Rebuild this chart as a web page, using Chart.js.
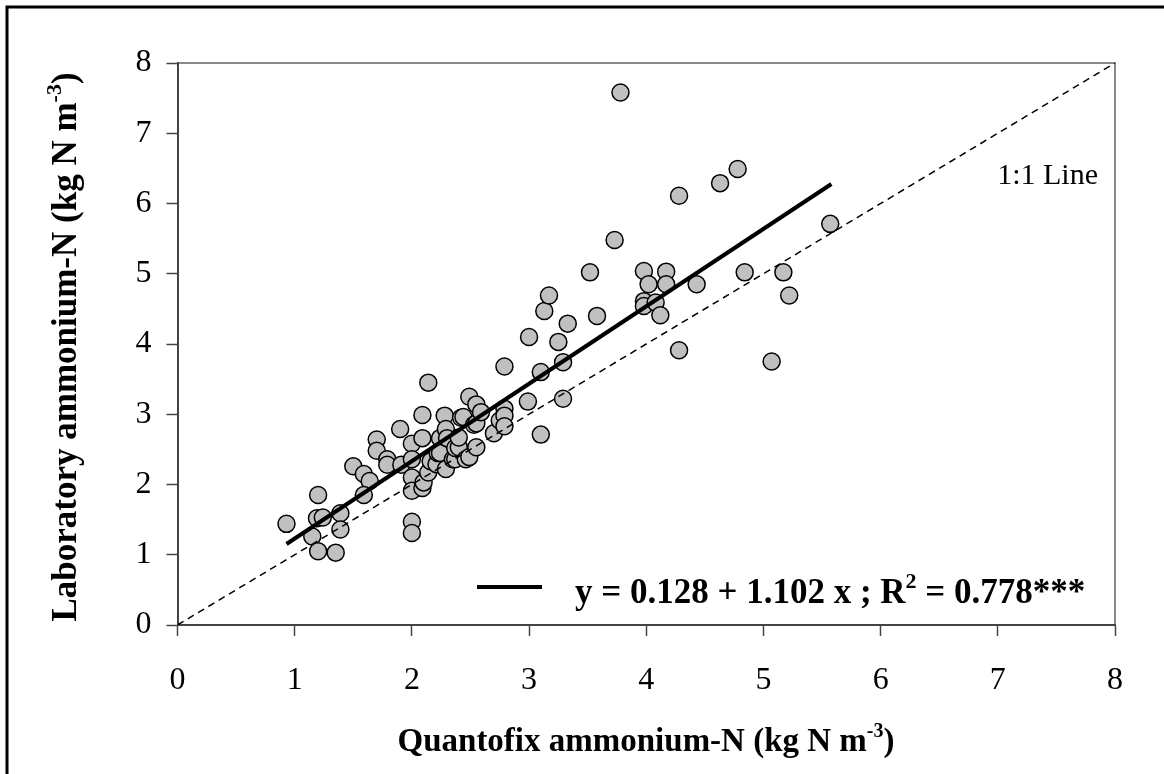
<!DOCTYPE html>
<html>
<head>
<meta charset="utf-8">
<script src="https://cdn.jsdelivr.net/npm/chart.js@4.4.1/dist/chart.umd.min.js"></script>
<style>
  html, body { margin: 0; padding: 0; background: #fff; }
  #wrap { width: 1164px; height: 774px; position: relative; }
</style>
</head>
<body>
<div id="wrap"><canvas id="ammoniumChart"></canvas></div>
<script>
// Quantofix (x) vs laboratory (y) ammonium-N, kg N m-3
const quantofix = [
  0.93, 1.15, 1.19, 1.20, 1.20, 1.24, 1.35, 1.39, 1.39, 1.50,
  1.59, 1.64, 1.59, 1.70, 1.70, 1.79, 1.79, 1.90, 1.91, 2.00,
  2.00, 2.00, 2.00, 2.00, 2.00, 2.09, 2.10, 2.09, 2.09, 2.14,
  2.14, 2.16, 2.21, 2.22, 2.24, 2.24, 2.28, 2.29, 2.29, 2.30,
  2.35, 2.37, 2.37, 2.40, 2.40, 2.42, 2.44, 2.46, 2.49, 2.49,
  2.53, 2.55, 2.55, 2.55, 2.59, 2.70, 2.75, 2.79, 2.79, 2.79,
  2.79, 2.99, 3.00, 3.10, 3.10, 3.13, 3.17, 3.25, 3.29, 3.29,
  3.33, 3.52, 3.58, 3.73, 3.78, 3.98, 3.98, 3.98, 4.02, 4.08,
  4.12, 4.17, 4.17, 4.28, 4.28, 4.43, 4.63, 4.78, 4.84, 5.07,
  5.17, 5.22, 5.57
];
const laboratory = [
  1.44, 1.26, 1.52, 1.85, 1.05, 1.53, 1.03, 1.59, 1.36, 2.26,
  2.15, 2.05, 1.85, 2.64, 2.48, 2.36, 2.28, 2.79, 2.28, 2.58,
  2.36, 2.10, 1.91, 1.47, 1.31, 1.95, 2.03, 2.99, 2.66, 3.45,
  2.17, 2.33, 2.29, 2.45, 2.66, 2.45, 2.98, 2.79, 2.22, 2.66,
  2.36, 2.36, 2.52, 2.53, 2.67, 2.95, 2.96, 2.36, 3.25, 2.39,
  2.85, 3.14, 2.87, 2.53, 3.03, 2.73, 2.91, 3.08, 2.98, 2.83,
  3.68, 3.18, 4.10, 3.60, 2.71, 4.47, 4.69, 4.03, 3.74, 3.22,
  4.29, 5.02, 4.40, 5.48, 7.58, 5.04, 4.61, 4.54, 4.85, 4.59,
  4.41, 5.03, 4.85, 6.11, 3.91, 4.85, 6.29, 6.49, 5.02, 3.75,
  5.02, 4.69, 5.71
];

// regression and 1:1 line
const fitIntercept = 0.128;
const fitSlope = 1.102;
const fitRange = [0.93, 5.58];
const oneToOneRange = [0, 8];

const axisMin = 0;
const axisMax = 8;

const SERIF = '"Liberation Serif", "Times New Roman", serif';

const points = quantofix.map((x, i) => ({ x: x, y: laboratory[i] }));
const fitLine = fitRange.map(x => ({ x: x, y: fitIntercept + fitSlope * x }));
const idLine = oneToOneRange.map(v => ({ x: v, y: v }));

// text with superscripts, y = baseline
function drawRich(ctx, parts, x, y, size, bold, align) {
  const w = bold ? 'bold ' : '';
  const base = w + size + 'px ' + SERIF;
  const small = w + Math.round(size * 0.62) + 'px ' + SERIF;
  let total = 0;
  parts.forEach(p => { ctx.font = p.sup ? small : base; total += ctx.measureText(p.t).width; });
  let cx = align === 'center' ? x - total / 2 : (align === 'right' ? x - total : x);
  ctx.textAlign = 'left';
  ctx.textBaseline = 'alphabetic';
  parts.forEach(p => {
    ctx.font = p.sup ? small : base;
    ctx.fillText(p.t, cx, p.sup ? y - size * 0.42 : y);
    cx += ctx.measureText(p.t).width;
  });
}

const decorations = {
  id: 'decorations',
  beforeDraw(chart) {
    const { ctx, chartArea } = chart;
    ctx.save();
    ctx.fillStyle = '#fff';
    ctx.fillRect(0, 0, chart.width, chart.height);
    // outer figure frame
    ctx.strokeStyle = '#000';
    ctx.lineWidth = 3;
    ctx.strokeRect(7, 7, chart.width + 20, chart.height + 20);
    // top and right plot border
    ctx.strokeStyle = '#8a8a8a';
    ctx.lineWidth = 2;
    ctx.beginPath();
    ctx.moveTo(chartArea.left, chartArea.top);
    ctx.lineTo(chartArea.right, chartArea.top);
    ctx.lineTo(chartArea.right, chartArea.bottom);
    ctx.stroke();
    ctx.restore();
  },
  afterDraw(chart) {
    const { ctx } = chart;
    ctx.save();
    ctx.fillStyle = '#000';
    drawRich(ctx, [{ t: 'Quantofix ammonium-N (kg N m' }, { t: '-3', sup: true }, { t: ')' }],
      646, 751, 33, true, 'center');
    ctx.translate(76, 347);
    ctx.rotate(-Math.PI / 2);
    drawRich(ctx, [{ t: 'Laboratory ammonium-N (kg N m' }, { t: '-3', sup: true }, { t: ')' }],
      0, 0, 35, true, 'center');
    ctx.restore();

    ctx.save();
    ctx.fillStyle = '#000';
    // legend entry for the fit
    ctx.strokeStyle = '#000';
    ctx.lineWidth = 4;
    ctx.beginPath();
    ctx.moveTo(477, 587);
    ctx.lineTo(542, 587);
    ctx.stroke();
    drawRich(ctx, [{ t: 'y = 0.128 + 1.102 x ; R' }, { t: '2', sup: true }, { t: ' = 0.778***' }],
      575, 603, 35, true, 'left');
    drawRich(ctx, [{ t: '1:1 Line' }], 1098, 184, 30, false, 'right');
    ctx.restore();
  }
};

const tickFont = { family: SERIF, size: 32 };

new Chart(document.getElementById('ammoniumChart'), {
  type: 'scatter',
  data: {
    datasets: [
      {
        label: 'fit',
        type: 'line',
        data: fitLine,
        borderColor: '#000',
        borderWidth: 4,
        pointRadius: 0,
        fill: false,
        order: 0
      },
      {
        label: '1:1 Line',
        type: 'line',
        data: idLine,
        borderColor: '#000',
        borderWidth: 1.5,
        borderDash: [7, 5],
        pointRadius: 0,
        fill: false,
        order: 1
      },
      {
        label: 'samples',
        data: points,
        pointRadius: 8.5,
        pointBackgroundColor: '#c0c0c0',
        pointBorderColor: '#000',
        pointBorderWidth: 1.5,
        order: 2
      }
    ]
  },
  options: {
    responsive: true,
    maintainAspectRatio: false,
    animation: false,
    layout: { padding: { left: 0, right: 49, top: 63, bottom: 0 } },
    plugins: {
      legend: { display: false },
      tooltip: { enabled: false }
    },
    scales: {
      x: {
        type: 'linear',
        min: axisMin,
        max: axisMax,
        afterFit: s => { s.height = 149; },
        ticks: { stepSize: 1, font: tickFont, color: '#000', padding: 25 },
        grid: { drawOnChartArea: false, drawTicks: true, tickLength: 11, tickColor: '#444', tickWidth: 1.5 },
        border: { color: '#444', width: 2 }
      },
      y: {
        type: 'linear',
        min: axisMin,
        max: axisMax,
        afterFit: s => { s.width = 177.5; },
        ticks: { stepSize: 1, font: tickFont, color: '#000', padding: 15 },
        grid: { drawOnChartArea: false, drawTicks: true, tickLength: 11, tickColor: '#444', tickWidth: 1.5 },
        border: { color: '#444', width: 2 }
      }
    }
  },
  plugins: [decorations]
});
</script>
</body>
</html>
